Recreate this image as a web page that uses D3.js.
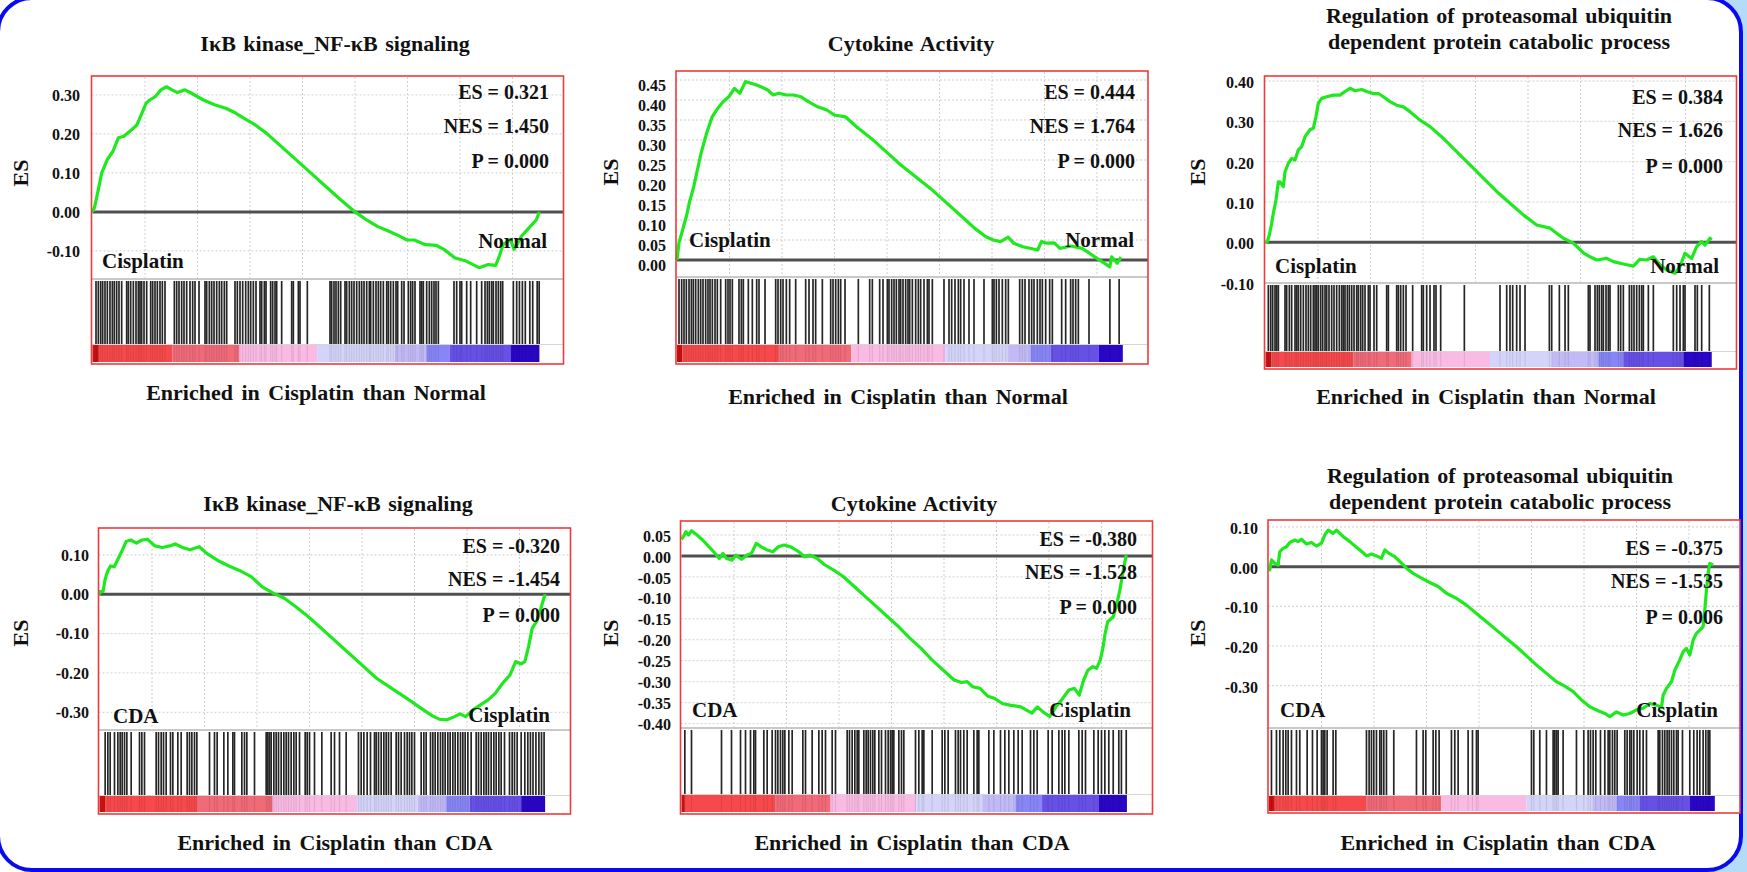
<!DOCTYPE html>
<html><head><meta charset="utf-8">
<script src="https://cdn.jsdelivr.net/npm/d3@7"></script>
<style>
body{margin:0;background:#fff;}
svg{display:block;}
text{font-family:"Liberation Serif","Times New Roman",serif;font-weight:bold;fill:#111;}
</style>
</head><body>
<svg id="chart" width="1747" height="872"></svg>
<script>
// ---------------- DATA ----------------
const titles = [
  ["IκB kinase_NF-κB signaling"],
  ["Cytokine Activity"],
  ["Regulation of proteasomal ubiquitin", "dependent protein catabolic process"],
  ["IκB kinase_NF-κB signaling"],
  ["Cytokine Activity"],
  ["Regulation of proteasomal ubiquitin", "dependent protein catabolic process"]
];
const xLabels = [
  "Enriched in Cisplatin than Normal", "Enriched in Cisplatin than Normal", "Enriched in Cisplatin than Normal",
  "Enriched in Cisplatin than CDA", "Enriched in Cisplatin than CDA", "Enriched in Cisplatin than CDA"
];
const posLabels = ["Cisplatin", "Cisplatin", "Cisplatin", "CDA", "CDA", "CDA"];
const negLabels = ["Normal", "Normal", "Normal", "Cisplatin", "Cisplatin", "Cisplatin"];
const esValues  = ["0.321", "0.444", "0.384", "-0.320", "-0.380", "-0.375"];
const nesValues = ["1.450", "1.764", "1.626", "-1.454", "-1.528", "-1.535"];
const pValues   = ["0.000", "0.000", "0.000", "0.000", "0.000", "0.006"];

const rankMax = 22500;
const rankTicks = [2500, 5000, 7500, 10000, 12500, 15000, 17500, 20000];

const yTicks1 = [0.30, 0.20, 0.10, 0.00, -0.10];
const yTicks2 = [0.45, 0.40, 0.35, 0.30, 0.25, 0.20, 0.15, 0.10, 0.05, 0.00];
const yTicks3 = [0.40, 0.30, 0.20, 0.10, 0.00, -0.10];
const yTicks4 = [0.10, 0.00, -0.10, -0.20, -0.30];
const yTicks5 = [0.05, 0.00, -0.05, -0.10, -0.15, -0.20, -0.25, -0.30, -0.35, -0.40];
const yTicks6 = [0.10, 0.00, -0.10, -0.20, -0.30];

const yDomain1 = [-0.172, 0.346];
const yDomain2 = [-0.0425, 0.470];
const yDomain3 = [-0.101, 0.410];
const yDomain4 = [-0.345, 0.166];
const yDomain5 = [-0.4105, 0.081];
const yDomain6 = [-0.4066, 0.115];

// running enrichment score: [rank, ES]
const curve1 = [[0,0.0],[86,0.01],[211,0.04],[440,0.10],[703,0.134],[968,0.155],[1233,0.19],[1497,0.194],[1762,0.206],[2114,0.223],[2290,0.245],[2554,0.279],[2730,0.287],[2994,0.296],[3258,0.313],[3523,0.321],[3787,0.313],[4051,0.306],[4403,0.313],[4755,0.303],[5284,0.287],[5812,0.275],[6341,0.266],[6693,0.257],[7222,0.240],[7750,0.223],[8279,0.202],[8983,0.168],[9688,0.134],[10392,0.10],[11097,0.066],[11801,0.032],[12506,0.0],[13034,-0.02],[13563,-0.037],[14091,-0.049],[14620,-0.062],[14972,-0.072],[15324,-0.072],[15853,-0.084],[16381,-0.086],[16734,-0.096],[17262,-0.118],[17791,-0.126],[18407,-0.143],[18848,-0.135],[19200,-0.137],[19376,-0.113],[19552,-0.084],[19904,-0.071],[20080,-0.096],[20433,-0.062],[20785,-0.041],[21137,-0.02],[21278,0.0]];
const curve2 = [[0,0],[90,0.042],[266,0.075],[442,0.108],[583,0.142],[794,0.183],[970,0.225],[1146,0.267],[1410,0.317],[1674,0.358],[1939,0.379],[2203,0.396],[2467,0.408],[2731,0.429],[2996,0.417],[3260,0.446],[3524,0.442],[3789,0.4375],[4053,0.432],[4317,0.425],[4582,0.4125],[4846,0.417],[5198,0.4125],[5551,0.4125],[5903,0.408],[6255,0.396],[6696,0.383],[7136,0.375],[7488,0.3625],[8017,0.358],[8546,0.333],[9250,0.304],[9955,0.271],[10659,0.2375],[11364,0.208],[12068,0.179],[12773,0.146],[13477,0.1125],[14182,0.079],[14710,0.058],[15063,0.05],[15415,0.046],[15767,0.057],[16031,0.042],[16472,0.033],[17176,0.025],[17352,0.046],[17617,0.042],[17969,0.043],[18233,0.029],[18761,0.035],[19290,0.029],[19642,0.017],[19994,0.004],[20347,-0.008],[20611,-0.017],[20699,0.008],[20963,-0.008],[21140,0.007]];
const curve3 = [[0,0],[87,0.002],[183,0.018],[294,0.047],[373,0.072],[500,0.105],[611,0.150],[690,0.150],[849,0.138],[929,0.175],[1087,0.196],[1246,0.208],[1405,0.204],[1563,0.229],[1722,0.237],[1881,0.262],[2119,0.279],[2278,0.283],[2405,0.312],[2516,0.345],[2675,0.357],[2913,0.361],[3230,0.365],[3548,0.365],[3786,0.374],[4024,0.382],[4262,0.376],[4580,0.379],[4818,0.374],[5135,0.369],[5373,0.369],[5611,0.361],[5929,0.349],[6246,0.340],[6563,0.336],[6881,0.324],[7357,0.303],[7833,0.287],[8468,0.258],[9103,0.225],[9738,0.192],[10373,0.159],[11008,0.126],[11643,0.097],[12278,0.068],[12913,0.043],[13548,0.035],[14183,0.010],[14659,-0.002],[15135,-0.026],[15452,-0.036],[15770,-0.044],[16246,-0.040],[16563,-0.048],[17040,-0.054],[17516,-0.059],[17833,-0.042],[18151,-0.044],[18468,-0.036],[18786,-0.056],[19103,-0.069],[19500,-0.077],[19738,-0.060],[19976,-0.027],[20293,-0.040],[20531,-0.011],[20770,0.002],[20928,-0.007],[21166,0.010],[21246,0.006]];
const curve4 = [[0,0],[30,0.007],[171,0.007],[259,0.036],[382,0.058],[523,0.072],[700,0.070],[876,0.089],[1052,0.108],[1263,0.134],[1492,0.138],[1757,0.130],[2021,0.138],[2285,0.140],[2637,0.123],[2990,0.119],[3342,0.123],[3606,0.128],[3959,0.119],[4311,0.113],[4752,0.121],[5104,0.104],[5632,0.086],[6161,0.072],[6689,0.060],[7218,0.045],[7746,0.019],[8275,0.003],[8803,-0.010],[9332,-0.031],[9860,-0.053],[10389,-0.078],[11094,-0.112],[11798,-0.146],[12503,-0.180],[13208,-0.214],[13913,-0.239],[14617,-0.264],[15322,-0.290],[15851,-0.309],[16203,-0.318],[16555,-0.319],[16908,-0.311],[17172,-0.304],[17436,-0.311],[17789,-0.294],[18141,-0.281],[18493,-0.269],[18846,-0.252],[19198,-0.226],[19550,-0.205],[19815,-0.171],[20079,-0.177],[20255,-0.171],[20431,-0.133],[20607,-0.086],[20818,-0.069],[20995,-0.040],[21136,-0.014],[21224,0.0]];
const curve5 = [[0,0.04],[88,0.046],[211,0.058],[335,0.050],[476,0.060],[740,0.050],[1004,0.038],[1269,0.024],[1533,0.010],[1797,-0.006],[1973,0.006],[2149,-0.006],[2414,-0.010],[2590,0.002],[2854,-0.008],[3118,0.002],[3330,0.006],[3559,0.030],[3823,0.021],[4087,0.014],[4351,0.010],[4616,0.022],[4880,0.026],[5232,0.021],[5585,0.010],[5849,-0.002],[6113,0.002],[6465,-0.006],[6818,-0.021],[7346,-0.037],[7699,-0.049],[8227,-0.073],[8756,-0.097],[9284,-0.121],[9813,-0.145],[10341,-0.169],[10870,-0.196],[11398,-0.220],[11927,-0.248],[12455,-0.272],[12984,-0.296],[13336,-0.302],[13600,-0.300],[13865,-0.312],[14217,-0.316],[14569,-0.334],[14922,-0.340],[15274,-0.352],[15627,-0.356],[16155,-0.360],[16684,-0.375],[16948,-0.360],[17212,-0.372],[17529,-0.383],[17829,-0.360],[18093,-0.344],[18445,-0.320],[18710,-0.316],[18939,-0.332],[19150,-0.296],[19361,-0.272],[19590,-0.264],[19766,-0.268],[19943,-0.248],[20066,-0.220],[20172,-0.185],[20295,-0.157],[20559,-0.145],[20736,-0.113],[20877,-0.081],[21000,-0.045],[21088,-0.021],[21176,0.002]];
const curve6 = [[0,-0.005],[38,-0.008],[117,0.017],[276,0.008],[435,0.004],[514,0.038],[673,0.046],[832,0.050],[990,0.061],[1229,0.067],[1387,0.063],[1546,0.069],[1784,0.057],[2022,0.061],[2260,0.052],[2498,0.059],[2657,0.080],[2816,0.092],[3054,0.084],[3213,0.092],[3530,0.076],[3848,0.063],[4165,0.049],[4483,0.035],[4641,0.027],[4880,0.032],[5118,0.027],[5356,0.021],[5514,0.042],[5753,0.032],[5991,0.025],[6229,0.013],[6546,-0.004],[6864,-0.017],[7261,-0.029],[7657,-0.040],[8054,-0.050],[8451,-0.067],[8927,-0.080],[9403,-0.097],[9880,-0.118],[10356,-0.139],[10832,-0.160],[11308,-0.181],[11785,-0.202],[12261,-0.225],[12737,-0.248],[13213,-0.269],[13689,-0.290],[14086,-0.301],[14483,-0.315],[14880,-0.336],[15276,-0.353],[15673,-0.363],[15991,-0.370],[16229,-0.378],[16547,-0.366],[16864,-0.374],[17181,-0.370],[17499,-0.361],[17816,-0.357],[18134,-0.345],[18451,-0.349],[18689,-0.355],[18768,-0.324],[18927,-0.307],[19166,-0.290],[19324,-0.261],[19562,-0.235],[19721,-0.214],[19880,-0.206],[20038,-0.223],[20197,-0.185],[20356,-0.168],[20514,-0.160],[20673,-0.151],[20752,-0.109],[20832,-0.059],[20911,-0.017],[20990,0.008],[21149,0.004]];

// gene-set hit ranks (barcode)
const hits1 = [167,278,389,484,595,707,833,945,1040,1151,1262,1389,1627,1707,1818,1945,2072,2183,2262,2341,2453,2580,2770,2865,2976,3088,3214,3326,3452,3897,4008,4119,4246,4357,4484,4643,4770,4881,5072,5357,5437,5564,5675,5786,5913,6040,6151,6278,6389,6786,6897,7024,7151,7294,7421,7532,7659,7786,7976,8056,8183,8262,8484,8580,8691,8770,9008,9484,9564,9802,9881,10230,11310,11389,11500,11595,11707,11818,12024,12103,12230,12341,12453,12580,12707,12818,12929,13056,13183,13246,13373,13500,13611,13722,13849,14008,14088,14199,14326,14453,14532,14723,14834,15040,15151,15246,15357,15595,15675,15754,15913,16040,16151,16262,16357,16468,17214,17341,17500,17580,17818,18008,18294,18532,18691,18802,18897,19008,19088,19215,19326,19437,19532,20040,20199,20330,20471,20610,20824,20962,21176,21270];
const hits2 = [95,222,333,445,572,683,778,889,1016,1127,1238,1365,1476,1572,1683,1810,1921,2080,2318,2429,2524,2635,2952,3064,3159,3397,3587,3794,3905,4191,4699,4810,4937,5048,5207,5365,5651,6127,6286,6476,6603,6921,7318,7429,7556,7683,7794,8000,8635,9175,9302,9651,9810,10016,10095,10222,10334,10445,10572,10651,10762,10889,11000,11080,11207,11365,11492,11603,11762,11921,12000,12159,12714,12953,13080,13238,13397,13508,13667,13905,14143,14619,15016,15095,15207,15334,15492,15651,15778,16318,16445,16572,16762,16889,17000,17159,17286,17397,17556,17746,17873,18318,18508,18746,18857,18984,19111,19619,20614,21054];
const hits3 = [135,247,342,453,532,612,929,1008,1135,1246,1405,1485,1564,1675,1802,1929,2040,2151,2278,2358,2437,2516,2627,2723,2834,2913,3024,3151,3262,3389,3516,3627,3707,3786,3897,3993,4104,4215,4342,4421,4532,4627,4738,4897,4977,5167,5294,5770,5850,6247,6326,6437,6564,6691,7008,7437,7516,7675,7834,8024,8119,8342,9469,11167,11485,11643,11770,11961,12120,12358,13517,13628,13993,14263,14421,15373,15453,15691,15802,15897,16008,16088,16215,16326,16405,16802,16913,17040,17326,17437,17548,17675,17802,17913,17993,18231,18469,19421,19580,19739,19897,19977,20453,20564,20770,21135];
const hits4 = [270,397,508,714,873,984,1080,1191,1302,1508,1905,2016,2143,2699,2810,2937,3048,3175,3381,3492,3730,3889,4175,4286,4397,4524,4635,5238,5476,5603,5921,6111,6349,6429,6778,6905,7016,7381,7937,8016,8095,8175,8302,8413,8524,8651,8778,8889,9000,9127,9254,9365,9524,9794,9889,10000,10238,10588,11032,11191,11429,11746,12333,12460,12588,12746,12905,13095,13175,13286,13413,13540,13651,13762,13889,14127,14238,14365,14524,14651,14762,14873,15000,15318,15445,15556,15762,15873,15984,16111,16238,16349,16460,16587,16698,16825,16937,17064,17191,17302,17413,17540,17699,17937,18048,18175,18302,18413,18524,18651,18778,18889,19016,19127,19286,19524,19651,19762,19889,20080,20253,20396,20520,20643,20782,20924,21048,21171];
const hits5 = [159,476,1905,2381,2810,3048,3286,3444,3524,3921,4079,4317,4476,4587,4714,4825,4921,5111,5270,5778,5905,6222,6540,6698,6857,7175,7333,7889,8000,8127,8254,8365,8444,8683,8794,8889,9000,9111,9206,9397,9524,9714,9841,9952,10032,10111,10349,10476,10587,11143,11302,11460,11540,11937,12413,12540,12698,13047,13175,13286,13444,13603,13921,14079,14159,14635,14873,15190,15397,15587,15825,16032,16222,16619,16778,16937,17460,17651,17968,18127,18254,18444,18921,19079,19238,19635,19841,20000,20159,20348,20558,20824,20948,21177];
const hits6 = [117,355,514,673,800,911,1070,1308,1466,1816,2070,2292,2498,2577,2657,2768,3054,3181,4641,4768,4879,4990,5117,5276,5355,5466,5593,5942,7022,7339,7466,7816,7943,8101,8688,8847,9006,9482,9689,9879,9958,12498,12609,12895,13212,13530,13609,13689,13768,14006,14641,14990,15196,15308,15435,15562,15784,15990,16149,16228,16355,16466,16578,16943,17054,17181,17260,17371,17530,17657,17816,17975,18531,18609,18736,18847,18958,19054,19165,19276,19403,19482,19689,20038,20228,20387,20514,20673,20800,20911,20990];

// ranked-list metric colour bar: segment boundaries (ranks) and colours
const cbColors = ["#c81010", "#f6494b", "#f06a78", "#f9bbe4", "#d4d4fa", "#c2baf6", "#8886f6", "#6650e6", "#2a06c6"];
const cbBounds1 = [0, 300, 3800, 7000, 10700, 14400, 15900, 17000, 19900, 21280];
const cbBounds2 = [0, 250, 4850, 8300, 12770, 15800, 16830, 17800, 20090, 21230];
const cbBounds3 = [0, 290, 4180, 6960, 10690, 13630, 15850, 17040, 19900, 21250];
const cbBounds4 = [0, 270, 4680, 8250, 12270, 15160, 16510, 17620, 20080, 21220];
const cbBounds5 = [0, 160, 4480, 7100, 11180, 14320, 15900, 17170, 19870, 21210];
const cbBounds6 = [0, 276, 4640, 8210, 12260, 15440, 16550, 17660, 20040, 21230];

// ---------------- LAYOUT ----------------
const layout = [
  {L:91.5, T:76, B:364, sep:279, cbTop:345, tickX:80, tickDy:0, titleX:335, titleY:[51], xlabX:316, xlabY:400, esX:20, esY:173, statX:549, statY:[99,133,168], posX:102, posY:268, negX:547, negY:248},
  {L:676, T:71, B:364, sep:277, cbTop:345, tickX:666, tickDy:5, titleX:911, titleY:[51], xlabX:898, xlabY:404, esX:610, esY:172, statX:1135, statY:[99,133,168], posX:689, posY:247, negX:1134, negY:247},
  {L:1264.5, T:76, B:369, sep:283, cbTop:352, tickX:1254, tickDy:1.5, titleX:1499, titleY:[23,49], xlabX:1486, xlabY:404, esX:1197, esY:172, statX:1723, statY:[104,137,173], posX:1275, posY:273, negX:1719, negY:273},
  {L:98.5, T:528, B:814, sep:730, cbTop:796, tickX:89, tickDy:0, titleX:338, titleY:[511], xlabX:335, xlabY:850, esX:20, esY:633, statX:560, statY:[553,586,622], posX:113, posY:723, negX:550, negY:722},
  {L:680.5, T:521, B:814, sep:728, cbTop:795, tickX:671, tickDy:1, titleX:914, titleY:[511], xlabX:912, xlabY:850, esX:610, esY:633, statX:1137, statY:[546,579,614], posX:692, posY:717, negX:1131, negY:717},
  {L:1268, T:520, B:813, sep:728, cbTop:796, tickX:1258, tickDy:1.5, titleX:1500, titleY:[483,509], xlabX:1498, xlabY:850, esX:1197, esY:633, statX:1723, statY:[555,588,624], posX:1280, posY:717, negX:1718, negY:717}
];
const PW = 472;

const panels = [
  {ticks:yTicks1, dom:yDomain1, curve:curve1, hits:hits1, cb:cbBounds1},
  {ticks:yTicks2, dom:yDomain2, curve:curve2, hits:hits2, cb:cbBounds2},
  {ticks:yTicks3, dom:yDomain3, curve:curve3, hits:hits3, cb:cbBounds3},
  {ticks:yTicks4, dom:yDomain4, curve:curve4, hits:hits4, cb:cbBounds4},
  {ticks:yTicks5, dom:yDomain5, curve:curve5, hits:hits5, cb:cbBounds5},
  {ticks:yTicks6, dom:yDomain6, curve:curve6, hits:hits6, cb:cbBounds6}
];

// ---------------- DRAW ----------------
const svg = d3.select("#chart");
svg.append("rect").attr("x",0).attr("y",0).attr("width",1747).attr("height",872).attr("fill","#fff");
svg.append("rect").attr("x",1690).attr("y",0).attr("width",57).attr("height",872).attr("fill","#b4dcf8");
svg.append("rect").attr("x",-2).attr("y",-2).attr("width",1743).attr("height",872)
  .attr("rx",34).attr("ry",34).attr("fill","#fff").attr("stroke","#0a0af0").attr("stroke-width",4);

panels.forEach((p, i) => {
  const lo = layout[i];
  const g = svg.append("g");
  const x = d3.scaleLinear().domain([0, rankMax]).range([lo.L + 1, lo.L + 1 + 472.5]);
  const y = d3.scaleLinear().domain(p.dom).range([lo.sep, lo.T + 1]);
  const R = lo.L + PW;
  const cbBot = lo.B - 2;

  g.append("rect").attr("x", lo.L).attr("y", lo.T).attr("width", PW).attr("height", lo.B - lo.T).attr("fill", "#fff");

  // vertical grid
  g.selectAll(".vg").data(rankTicks).join("line")
    .attr("x1", d => x(d)).attr("x2", d => x(d))
    .attr("y1", lo.T + 1).attr("y2", lo.sep)
    .attr("stroke", "#cfcfcf").attr("stroke-width", 1).attr("stroke-dasharray", "2,2");
  // horizontal grid
  g.selectAll(".hg").data(p.ticks).join("line")
    .attr("x1", lo.L).attr("x2", R)
    .attr("y1", d => y(d)).attr("y2", d => y(d))
    .attr("stroke", "#cfcfcf").attr("stroke-width", 1).attr("stroke-dasharray", "2,2");

  // zero line
  g.append("line").attr("x1", lo.L + 1).attr("x2", R).attr("y1", y(0)).attr("y2", y(0))
    .attr("stroke", "#505050").attr("stroke-width", 3);

  // colour bar
  const segs = p.cb.slice(0, -1).map((b, k) => ({a: b, b: p.cb[k + 1], c: cbColors[k]}));
  g.selectAll(".cb").data(segs).join("rect")
    .attr("x", d => x(d.a)).attr("width", d => x(d.b) - x(d.a))
    .attr("y", lo.cbTop).attr("height", cbBot - lo.cbTop)
    .attr("fill", d => d.c);
  // streaks in colour bar
  g.selectAll(".st").data(p.hits).join("line")
    .attr("x1", d => x(d)).attr("x2", d => x(d))
    .attr("y1", lo.cbTop).attr("y2", cbBot)
    .attr("stroke", "#000").attr("stroke-opacity", 0.09).attr("stroke-width", 1.2);

  // barcode
  g.selectAll(".hit").data(p.hits).join("line")
    .attr("x1", d => x(d)).attr("x2", d => x(d))
    .attr("y1", lo.sep + 2).attr("y2", lo.cbTop - 1)
    .attr("stroke", "#000").attr("stroke-opacity", 0.85).attr("stroke-width", 1.7);

  // separators
  g.append("line").attr("x1", lo.L).attr("x2", R).attr("y1", lo.sep).attr("y2", lo.sep)
    .attr("stroke", "#c9c9c9").attr("stroke-width", 2);
  g.append("line").attr("x1", lo.L).attr("x2", R).attr("y1", lo.cbTop - 0.5).attr("y2", lo.cbTop - 0.5)
    .attr("stroke", "#d6d6d6").attr("stroke-width", 1);

  // ES curve
  const line = d3.line().x(d => x(d[0])).y(d => y(d[1]));
  g.append("path").datum(p.curve).attr("d", line)
    .attr("fill", "none").attr("stroke", "#1ee81e").attr("stroke-width", 3.2).attr("stroke-linejoin", "round");

  // frame
  g.append("rect").attr("x", lo.L).attr("y", lo.T).attr("width", PW).attr("height", lo.B - lo.T)
    .attr("fill", "none").attr("stroke", "#ee3b3b").attr("stroke-width", 1.6);

  // y axis labels
  const ax = d3.axisLeft(y).tickValues(p.ticks).tickSize(0).tickPadding(0)
    .tickFormat(d => d.toFixed(2));
  const ag = g.append("g").attr("transform", `translate(${lo.tickX},${lo.tickDy})`).call(ax);
  ag.select(".domain").remove();
  ag.selectAll("text").attr("font-size", 16).attr("font-family", "Liberation Serif").attr("font-weight", "bold").attr("fill", "#111");

  // ES axis title
  g.append("text").attr("transform", `translate(${lo.esX},${lo.esY}) rotate(-90)`)
    .attr("text-anchor", "middle").attr("dominant-baseline", "central")
    .attr("font-size", 22).text("ES");

  // title
  titles[i].forEach((t, k) => {
    g.append("text").attr("x", lo.titleX).attr("y", lo.titleY[k]).attr("text-anchor", "middle")
      .attr("font-size", 22).attr("word-spacing", 2).text(t);
  });
  // x label
  g.append("text").attr("x", lo.xlabX).attr("y", lo.xlabY).attr("text-anchor", "middle")
    .attr("font-size", 22).attr("word-spacing", 3).text(xLabels[i]);

  // stats
  const stats = ["ES = " + esValues[i], "NES = " + nesValues[i], "P = " + pValues[i]];
  stats.forEach((s, k) => {
    g.append("text").attr("x", lo.statX).attr("y", lo.statY[k]).attr("text-anchor", "end")
      .attr("font-size", 20).text(s);
  });
  // phenotype labels
  g.append("text").attr("x", lo.posX).attr("y", lo.posY).attr("font-size", 21).text(posLabels[i]);
  g.append("text").attr("x", lo.negX).attr("y", lo.negY).attr("text-anchor", "end").attr("font-size", 21).text(negLabels[i]);
});
</script>
</body></html>
